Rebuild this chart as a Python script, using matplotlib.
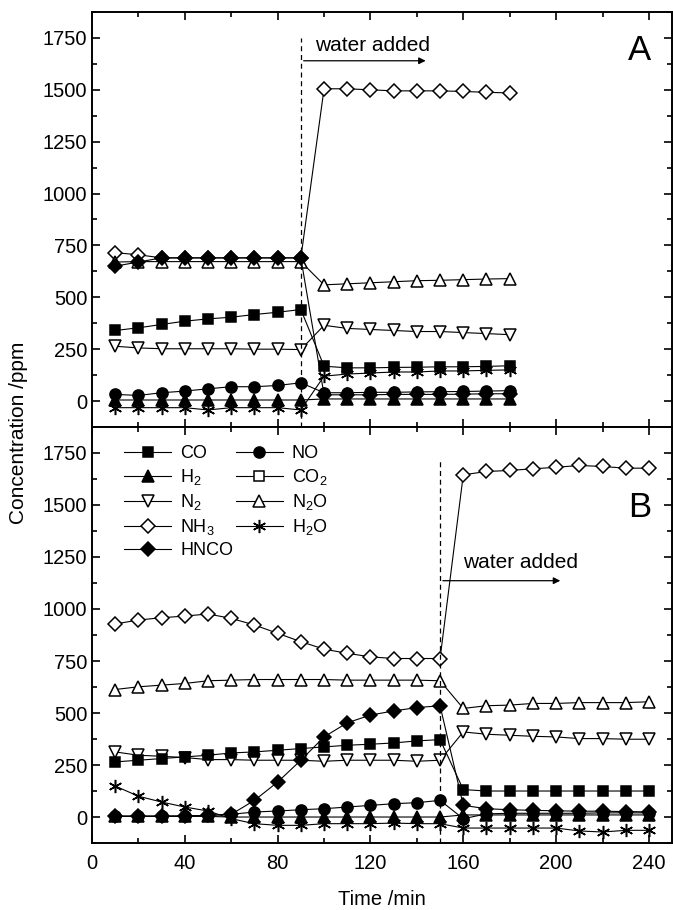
import matplotlib
matplotlib.use('Agg')
import matplotlib.pyplot as plt
from matplotlib.ticker import MultipleLocator
import numpy as np

plt.rcParams['font.family'] = ['Liberation Sans', 'DejaVu Sans']
plt.rcParams['mathtext.fontset'] = 'custom'
plt.rcParams['mathtext.rm'] = 'Liberation Sans'
plt.rcParams['mathtext.it'] = 'Liberation Sans:italic'

# ---- panel A : time 10..180 min, water added at 90 min
time_a = np.arange(10, 181, 10)
co_a = [340, 353, 369, 385, 396, 404, 417, 428, 441, 168, 160, 160, 162, 163, 165, 165, 167, 170]
no_a = [32, 27, 40, 48, 59, 69, 69, 75, 88, 40, 40, 42, 42, 44, 45, 46, 48, 50]
h2_a = [5, 5, 5, 5, 5, 5, 5, 5, 5, 10, 10, 10, 10, 10, 10, 10, 10, 10]
n2_a = [264, 256, 252, 252, 252, 252, 250, 250, 248, 365, 350, 345, 340, 335, 335, 330, 325, 320]
n2o_a = [670, 672, 672, 672, 672, 672, 672, 672, 672, 560, 565, 570, 575, 580, 582, 585, 588, 590]
nh3_a = [715, 705, 690, 690, 690, 690, 690, 690, 690, 1505, 1505, 1500, 1495, 1495, 1495, 1492, 1488, 1485]
h2o_a = [-32, -32, -32, -32, -43, -32, -32, -32, -43, 120, 130, 135, 140, 140, 145, 145, 148, 150]
hnco_a = [650, 670, 690, 690, 690, 690, 690, 690, 690, 30, 30, 30, 32, 32, 32, 33, 35, 35]

# ---- panel B : time 10..240 min, water added at 150 min
time_b = np.arange(10, 241, 10)
co_b = [265, 273, 281, 289, 297, 308, 313, 321, 329, 337, 345, 350, 356, 366, 372,
        132, 125, 125, 125, 125, 125, 125, 125, 125]
no_b = [5, 5, 5, 5, 8, 13, 24, 29, 35, 40, 48, 56, 64, 69, 80,
        -8, 15, 18, 18, 18, 18, 20, 20, 20]
h2_b = [3, 3, 3, 3, 3, 0, 0, 0, 0, 0, 0, 0, 0, 0, 0,
        10, 10, 10, 10, 10, 10, 10, 10, 10]
n2_b = [313, 297, 292, 286, 276, 276, 273, 273, 273, 268, 273, 273, 273, 268, 273,
        409, 398, 393, 388, 385, 377, 377, 374, 374]
n2o_b = [613, 626, 634, 642, 655, 658, 661, 661, 661, 661, 658, 658, 658, 658, 655,
         522, 535, 538, 546, 546, 550, 550, 550, 554]
nh3_b = [928, 947, 958, 966, 976, 955, 923, 883, 843, 807, 787, 770, 762, 762, 762,
         1645, 1661, 1666, 1674, 1681, 1690, 1685, 1677, 1677]
h2o_b = [149, 100, 72, 48, 29, -8, -32, -40, -40, -32, -32, -32, -29, -32, -32,
         -53, -53, -53, -53, -53, -67, -72, -64, -64]
hnco_b = [3, 3, 3, 5, 8, 13, 80, 168, 273, 385, 453, 490, 510, 526, 535,
          56, 40, 35, 32, 30, 28, 28, 26, 25]

asterisk = (6, 2, 0)
# marker, filled, size
styles = {
    'CO':   ('s', True, 7.5),
    'H2':   ('^', True, 8),
    'N2':   ('v', False, 8),
    'NH3':  ('D', False, 7),
    'HNCO': ('D', True, 7),
    'NO':   ('o', True, 8),
    'CO2':  ('s', False, 7.5),
    'N2O':  ('^', False, 8),
    'H2O':  (asterisk, True, 9.5),
}
labels = {'CO': 'CO', 'H2': 'H$_2$', 'N2': 'N$_2$', 'NH3': 'NH$_3$', 'HNCO': 'HNCO',
          'NO': 'NO', 'CO2': 'CO$_2$', 'N2O': 'N$_2$O', 'H2O': 'H$_2$O'}

series_a = {'NH3': nh3_a, 'N2O': n2o_a, 'N2': n2_a, 'CO': co_a, 'H2O': h2o_a,
            'NO': no_a, 'HNCO': hnco_a, 'H2': h2_a}
series_b = {'NH3': nh3_b, 'N2O': n2o_b, 'N2': n2_b, 'CO': co_b, 'H2O': h2o_b,
            'NO': no_b, 'HNCO': hnco_b, 'H2': h2_b}

fig = plt.figure(figsize=(6.73, 9.10), dpi=100)
ax_a = fig.add_axes([0.1367, 0.5308, 0.862, 0.4560])
ax_b = fig.add_axes([0.1367, 0.0736, 0.862, 0.4572])


def draw(ax, t, series):
    handles = {}
    for key, y in series.items():
        m, filled, ms = styles[key]
        line, = ax.plot(t, y, color='black', lw=0.8, marker=m, ms=ms,
                        mfc='black' if filled else 'white', mec='black', mew=1.1)
        handles[key] = line
    return handles


draw(ax_a, time_a, series_a)
hb = draw(ax_b, time_b, series_b)
# CO2 appears in the legend only
m, filled, ms = styles['CO2']
hb['CO2'], = ax_b.plot([], [], color='black', lw=0.8, marker=m, ms=ms,
                       mfc='white', mec='black', mew=1.1)

for ax in (ax_a, ax_b):
    ax.set_xlim(0, 250)
    ax.set_ylim(-125, 1875)
    ax.xaxis.set_major_locator(MultipleLocator(40))
    ax.xaxis.set_minor_locator(MultipleLocator(20))
    ax.yaxis.set_major_locator(MultipleLocator(250))
    ax.yaxis.set_minor_locator(MultipleLocator(125))
    ax.tick_params(which='both', direction='in', top=True, right=True, labelsize=14.5, width=1.2)
    ax.tick_params(which='major', length=6)
    ax.tick_params(which='minor', length=3.5)
    for s in ax.spines.values():
        s.set_linewidth(1.4)
ax_a.tick_params(labelbottom=False)
ax_b.tick_params(axis='x', pad=8)

# water added markers
ax_a.axvline(90, ymin=0, ymax=(1750 + 125) / 2000, color='black', lw=0.9, ls=(0, (4, 3)))
ax_a.annotate('', xy=(145, 1640), xytext=(90, 1640),
              arrowprops=dict(arrowstyle='-|>', color='black', lw=0.9, mutation_scale=10))
ax_a.text(96, 1712, 'water added', fontsize=15, va='center')
ax_a.text(236, 1690, 'A', fontsize=25, ha='center', va='center')

ax_b.axvline(150, ymin=0, ymax=(1710 + 125) / 2000, color='black', lw=0.9, ls=(0, (4, 3)))
ax_b.annotate('', xy=(203, 1136), xytext=(150, 1136),
              arrowprops=dict(arrowstyle='-|>', color='black', lw=0.9, mutation_scale=10))
ax_b.text(160, 1225, 'water added', fontsize=15, va='center')
ax_b.text(236, 1490, 'B', fontsize=25, ha='center', va='center')

order = ['CO', 'H2', 'N2', 'NH3', 'HNCO', 'NO', 'CO2', 'N2O', 'H2O']
ax_b.legend([hb[k] for k in order], [labels[k] for k in order], ncol=2,
            loc='upper left', bbox_to_anchor=(0.035, 0.985), frameon=False,
            fontsize=13, handlelength=2.6, handletextpad=0.5, columnspacing=0.15,
            labelspacing=0.28, borderpad=0.15)

ax_b.set_xlabel('Time /min', fontsize=14.5, labelpad=12)
fig.text(0.027, 1 - 433 / 910, 'Concentration /ppm', rotation=90, fontsize=15,
         ha='center', va='center')

fig.savefig('out.png', dpi=100)
